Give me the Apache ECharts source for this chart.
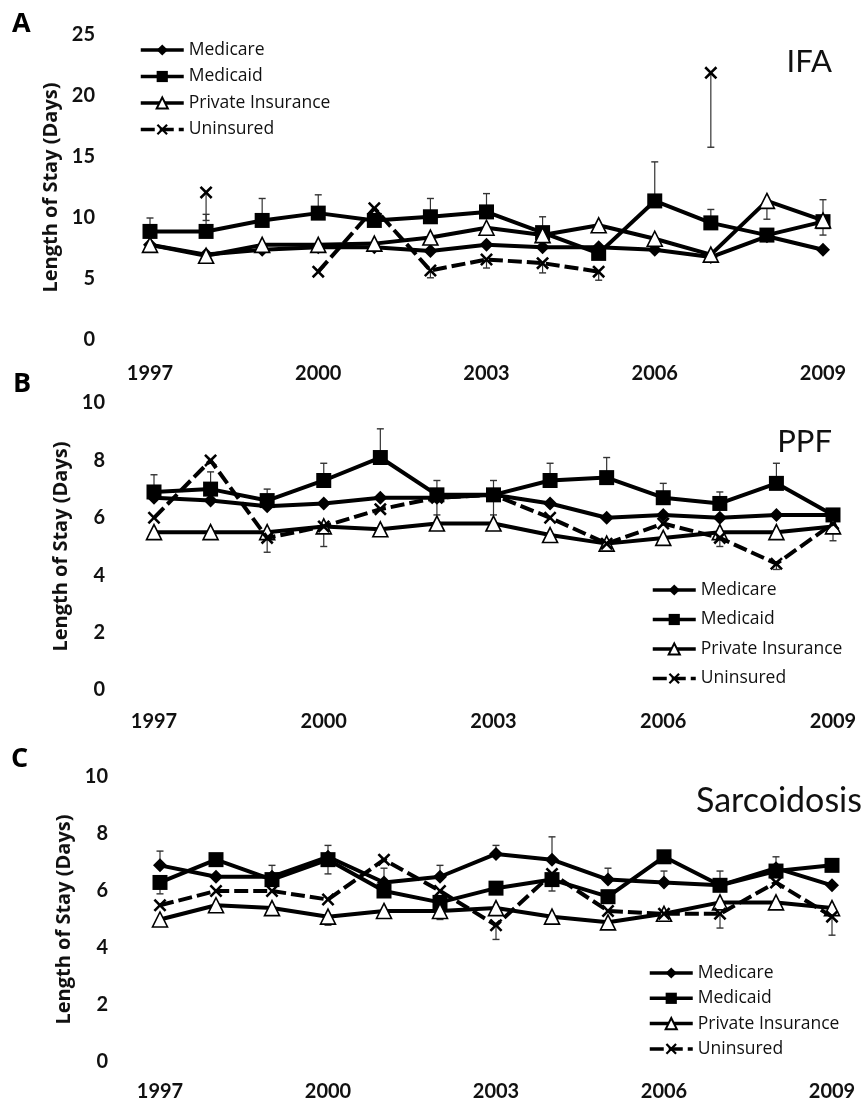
<!DOCTYPE html>
<html>
<head>
<meta charset="utf-8">
<script src="https://cdn.jsdelivr.net/npm/echarts@6/dist/echarts.min.js"></script>
<style>
html,body{margin:0;padding:0;background:#fff;}
#chart{width:865px;height:1107px;}
</style>
</head>
<body>
<div id="chart"></div>
<script>
// ---------- data ----------
const years = ['1997','1998','1999','2000','2001','2002','2003','2004','2005','2006','2007','2008','2009'];
const seriesNames = ['Medicare','Medicaid','Private Insurance','Uninsured'];
const panelNames = ['IFA','PPF','Sarcoidosis'];
const panelLetters = ['A','B','C'];
const yTitle = 'Length of Stay (Days)';

// Panel A : IFA
const medicareA   = [7.8, 7.0, 7.4, 7.6, 7.6, 7.3, 7.8, 7.6, 7.6, 7.4, 6.8, 8.5, 7.4];
const medicaidA   = [8.9, 8.9, 9.8, 10.4, 9.8, 10.1, 10.5, 8.8, 7.1, 11.4, 9.6, 8.6, 9.7];
const privateA    = [7.8, 6.9, 7.8, 7.8, 7.9, 8.4, 9.2, 8.6, 9.4, 8.3, 7.0, 11.4, 9.8];
const uninsuredA  = [null, 12.1, null, 5.6, 10.8, 5.7, 6.6, 6.3, 5.6, null, 21.9, null, null];
// error bar ends (null = no visible bar)
const medicareErrA  = [null, null, null, null, null, null, null, null, null, null, null, null, null];
const medicaidErrA  = [10.0, 10.3, 11.6, 11.9, null, 11.6, 12.0, 10.1, null, 14.6, 10.7, null, 11.5];
const privateErrA   = [null, null, null, null, null, null, null, null, null, null, null, 9.9, 8.6];
const uninsuredErrA = [null, 9.8, null, null, null, 5.1, 5.9, 5.5, 4.9, null, 15.8, null, null];

// Panel B : PPF
const medicareB   = [6.7, 6.6, 6.4, 6.5, 6.7, 6.7, 6.8, 6.5, 6.0, 6.1, 6.0, 6.1, 6.1];
const medicaidB   = [6.9, 7.0, 6.6, 7.3, 8.1, 6.8, 6.8, 7.3, 7.4, 6.7, 6.5, 7.2, 6.1];
const privateB    = [5.5, 5.5, 5.5, 5.7, 5.6, 5.8, 5.8, 5.4, 5.1, 5.3, 5.5, 5.5, 5.7];
const uninsuredB  = [6.0, 8.0, 5.3, 5.7, 6.3, 6.7, 6.8, 6.0, 5.1, 5.8, 5.3, 4.4, 5.8];
const medicareErrB  = [null, null, null, null, null, null, null, null, null, null, null, null, null];
const medicaidErrB  = [7.5, 7.6, 7.0, 7.9, 9.1, 7.3, 7.3, 7.9, 8.1, 7.2, 6.9, 7.9, null];
const privateErrB   = [null, null, null, null, null, null, null, null, null, null, null, null, 5.2];
const uninsuredErrB = [null, null, 4.8, 5.0, null, 6.1, 6.1, null, 4.9, null, 5.0, 4.2, null];

// Panel C : Sarcoidosis
const medicareC   = [6.9, 6.5, 6.5, 7.2, 6.3, 6.5, 7.3, 7.1, 6.4, 6.3, 6.2, 6.8, 6.2];
const medicaidC   = [6.3, 7.1, 6.4, 7.1, 6.0, 5.6, 6.1, 6.4, 5.8, 7.2, 6.2, 6.7, 6.9];
const privateC    = [5.0, 5.5, 5.4, 5.1, 5.3, 5.3, 5.4, 5.1, 4.9, 5.2, 5.6, 5.6, 5.4];
const uninsuredC  = [5.5, 6.0, 6.0, 5.7, 7.1, 6.0, 4.8, 6.6, 5.3, 5.2, 5.2, 6.3, 5.1];
const medicareErrC  = [7.4, null, 6.9, 7.6, null, 6.9, 7.6, 7.9, 6.8, 6.7, 6.7, 7.2, null];
const medicaidErrC  = [5.9, null, null, 6.6, 6.8, null, null, null, null, null, null, null, null];
const privateErrC   = [null, null, null, 4.8, null, 5.0, null, null, null, null, null, null, null];
const uninsuredErrC = [null, null, null, null, null, null, 4.3, 6.0, null, null, 4.7, null, 4.45];

// ---------- layout ----------
const panels = [
  { vals:[medicareA, medicaidA, privateA, uninsuredA], errs:[medicareErrA, medicaidErrA, privateErrA, uninsuredErrA],
    grid:{left:150, right:42, top:35, height:305}, yMax:25, yInt:5, yMargin:55, nameGap:79, xMargin:24,
    legend:{left:139, top:41, itemGap:8.5}, nameX:832, nameY:62, nameSize:31, letterX:12, letterY:11 },
  { vals:[medicareB, medicaidB, privateB, uninsuredB], errs:[medicareErrB, medicaidErrB, privateErrB, uninsuredErrB],
    grid:{left:154, right:32, top:403, height:287}, yMax:10, yInt:2, yMargin:49, nameGap:71, xMargin:22,
    legend:{left:651, top:581, itemGap:11.5}, nameX:832, nameY:442, nameSize:31, letterX:13, letterY:371 },
  { vals:[medicareC, medicaidC, privateC, uninsuredC], errs:[medicareErrC, medicaidErrC, privateErrC, uninsuredErrC],
    grid:{left:160, right:33, top:777, height:285}, yMax:10, yInt:2, yMargin:52, nameGap:78, xMargin:20,
    legend:{left:648, top:964, itemGap:7.3}, nameX:862, nameY:801, nameSize:34, letterX:11, letterY:746 }
];

const xPath = 'path://M0,1.4 L1.4,0 L5,3.6 L8.6,0 L10,1.4 L6.4,5 L10,8.6 L8.6,10 L5,6.4 L1.4,10 L0,8.6 L3.6,5 Z';
const styles = [
  { symbol:'diamond', symbolSize:14, itemStyle:{color:'#000'}, lineStyle:{color:'#000', width:4} },
  { symbol:'rect', symbolSize:15, itemStyle:{color:'#000'}, lineStyle:{color:'#000', width:4} },
  { symbol:'triangle', symbolSize:15, itemStyle:{color:'#fff', borderColor:'#000', borderWidth:1.6}, lineStyle:{color:'#000', width:4} },
  { symbol:xPath, symbolSize:13, itemStyle:{color:'#000'}, lineStyle:{color:'#000', width:4, type:[14,5]} }
];

const font = 'Lato';
const grids = [], xAxes = [], yAxes = [], series = [], legends = [], graphics = [];

panels.forEach((p, pi) => {
  grids.push(p.grid);
  xAxes.push({
    type:'category', gridIndex:pi, data:years, boundaryGap:false,
    axisLine:{show:false}, axisTick:{show:false}, splitLine:{show:false},
    axisLabel:{interval:2, margin:p.xMargin, fontFamily:font, fontWeight:'bold', fontSize:20, color:'#111'}
  });
  yAxes.push({
    type:'value', gridIndex:pi, min:0, max:p.yMax, interval:p.yInt,
    axisLine:{show:false}, axisTick:{show:false}, splitLine:{show:false},
    axisLabel:{margin:p.yMargin, fontFamily:font, fontWeight:'bold', fontSize:20, color:'#111'},
    name:yTitle, nameLocation:'middle', nameGap:p.nameGap,
    nameTextStyle:{fontFamily:'Open Sans', fontWeight:'bold', fontSize:20, color:'#111'}
  });
  // error bars
  p.errs.forEach((errArr, si) => {
    const data = [];
    errArr.forEach((e, i) => { if (e !== null && p.vals[si][i] !== null) data.push([i, p.vals[si][i], e]); });
    series.push({
      type:'custom', xAxisIndex:pi, yAxisIndex:pi, z:1, silent:true,
      data:data,
      renderItem:(params, api) => {
        const a = api.coord([api.value(0), api.value(1)]);
        const b = api.coord([api.value(0), api.value(2)]);
        return { type:'group', children:[
          { type:'line', shape:{x1:a[0], y1:a[1], x2:b[0], y2:b[1]}, style:{stroke:'#333', lineWidth:1.2} },
          { type:'line', shape:{x1:b[0]-3.5, y1:b[1], x2:b[0]+3.5, y2:b[1]}, style:{stroke:'#333', lineWidth:1.4} }
        ]};
      }
    });
  });
  p.vals.forEach((arr, si) => {
    series.push(Object.assign({
      type:'line', name:seriesNames[si], xAxisIndex:pi, yAxisIndex:pi, data:arr,
      connectNulls:false, showAllSymbol:true, z:2 + si
    }, JSON.parse(JSON.stringify(styles[si]))));
  });
  legends.push({
    orient:'vertical', left:p.legend.left, top:p.legend.top, itemGap:p.legend.itemGap, padding:0,
    itemWidth:43, itemHeight:14, data:seriesNames, selectedMode:false,
    lineStyle:{width:3.5},
    textStyle:{fontFamily:'Open Sans', fontSize:17.5, color:'#111', lineHeight:17}
  });
  graphics.push({ type:'text', left:p.letterX, top:p.letterY,
    style:{text:panelLetters[pi], font:'bold 27px "Open Sans"', fill:'#000'} });
  graphics.push({ type:'text', x:p.nameX, y:p.nameY,
    style:{text:panelNames[pi], font:p.nameSize + 'px Lato', fill:'#111', textAlign:'right', textVerticalAlign:'middle'} });
});

const chart = echarts.init(document.getElementById('chart'));
chart.setOption({
  animation:false,
  backgroundColor:'#fff',
  grid:grids, xAxis:xAxes, yAxis:yAxes, series:series, legend:legends, graphic:graphics
});
</script>
</body>
</html>
